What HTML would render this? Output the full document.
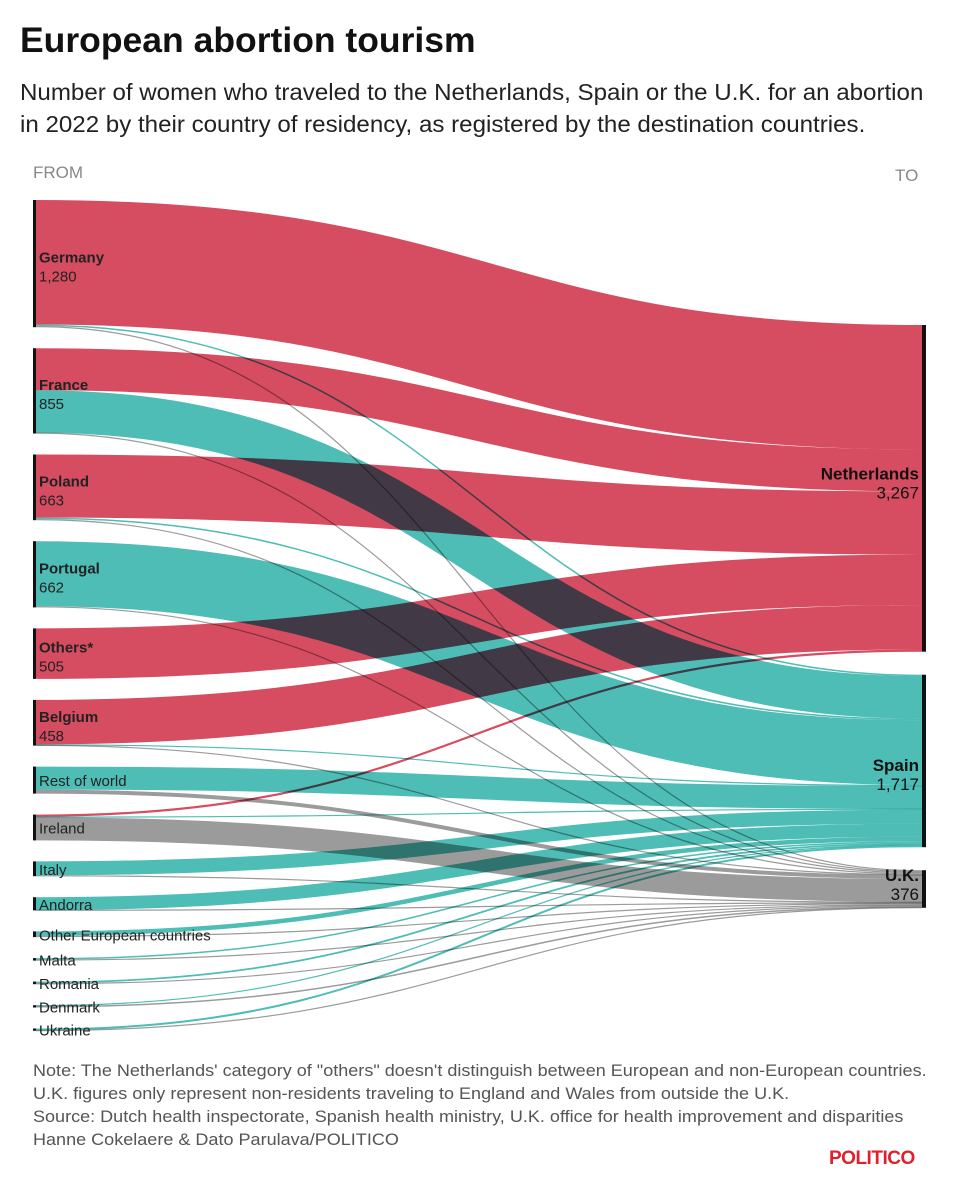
<!DOCTYPE html>
<html><head><meta charset="utf-8"><style>
body{margin:0;background:#fff;width:960px;height:1200px;overflow:hidden;font-family:"Liberation Sans",sans-serif}
.t{position:absolute;white-space:nowrap;transform-origin:0 0}
</style></head><body>
<div class="t" style="left:20px;top:20px;font-size:35.5px;font-weight:bold;color:#111">European abortion tourism</div>
<div class="t" style="left:20px;top:76px;font-size:23.3px;line-height:32px;color:#222;transform:scaleX(1.035)">Number of women who traveled to the Netherlands, Spain or the U.K. for an abortion<br>in 2022 by their country of residency, as registered by the destination countries.</div>
<svg id="chart" width="960" height="1200" style="position:absolute;left:0;top:0"></svg>
<div class="t" style="left:33px;top:1060px;font-size:16.5px;line-height:23px;color:#555;transform:scaleX(1.093)">Note: The Netherlands' category of "others" doesn't distinguish between European and non-European countries.<br>U.K. figures only represent non-residents traveling to England and Wales from outside the U.K.<br>Source: Dutch health inspectorate, Spanish health ministry, U.K. office for health improvement and disparities<br>Hanne Cokelaere &amp; Dato Parulava/POLITICO</div>
<div class="t" style="left:829px;top:1148px;font-size:19px;font-weight:bold;color:#e0202c;letter-spacing:-0.5px">POLITICO</div>
<script>
const sources=["Germany","France","Poland","Portugal","Others*","Belgium","Rest of world","Ireland","Italy","Andorra","Other European countries","Malta","Romania","Denmark","Ukraine"];
const sourceLabels=["1,280","855","663","662","505","458","","","","","","","","",""];
const targets=["Netherlands","Spain","U.K."];
const targetLabels=["3,267","1,717","376"];
const toNetherlands=[1245,420,630,0,505,445,0,22,0,0,0,0,0,0,0];
const toSpain=[15,425,15,650,0,8,230,6,140,130,45,15,18,8,20];
const toUK=[12,8,12,12,0,4,40,230,8,2,12,10,8,15,3];
const colors=["#d64d61","#4dbdb5","#9b9b9b"];
const targetLabelShift=[-7,12,-6];
const k=0.1,x0=36,x1=922,leftTop=200,leftGap=21,rightTop=325,rightGap=23;
const ns="http://www.w3.org/2000/svg",svg=document.getElementById('chart');
function mk(tag,attrs){const e=document.createElementNS(ns,tag);for(const a in attrs)e.setAttribute(a,attrs[a]);svg.appendChild(e);return e;}
const flows=[toNetherlands,toSpain,toUK];
const lTop=[];let y=leftTop;
sources.forEach((s,i)=>{lTop.push(y);const v=flows[0][i]+flows[1][i]+flows[2][i];y+=v*k+leftGap;});
const rTop=[];y=rightTop;
targets.forEach((t,j)=>{rTop.push(y);const v=flows[j].reduce((a,b)=>a+b,0);y+=v*k+rightGap;});
const lOff=lTop.slice(),rOff=rTop.slice();
const links=[];
sources.forEach((s,i)=>{targets.forEach((t,j)=>{const v=flows[j][i];if(!v)return;const w=v*k;links.push({i,j,w,ly:lOff[i]+w/2});lOff[i]+=w;});});
targets.forEach((t,j)=>{links.filter(l=>l.j===j).sort((a,b)=>a.i-b.i).forEach(l=>{l.ry=rOff[j]+l.w/2;rOff[j]+=l.w;});});
const g=mk('g',{});g.setAttribute('style','isolation:isolate');
links.forEach(l=>{const mx=(x0+x1)/2;const p=document.createElementNS(ns,'path');
p.setAttribute('d',`M${x0},${l.ly}C${mx},${l.ly} ${mx},${l.ry} ${x1},${l.ry}`);
p.setAttribute('fill','none');p.setAttribute('stroke',colors[l.j]);p.setAttribute('stroke-width',Math.max(l.w,1.2));
p.setAttribute('style','mix-blend-mode:multiply');


g.appendChild(p);});
sources.forEach((s,i)=>{const h=(flows[0][i]+flows[1][i]+flows[2][i])*k;
const r=mk('rect',{x:33,y:lTop[i],width:3,height:Math.max(h,1.5),fill:'#111'});


const cy=lTop[i]+h/2;
if(sourceLabels[i]){const t=mk('text',{x:39,y:cy-1,'font-size':15,'font-weight':'bold',fill:'#222'});t.textContent=s;


const v=mk('text',{x:39,y:cy+18,'font-size':15,fill:'#222'});v.textContent=sourceLabels[i];

}
else{const t=mk('text',{x:39,y:cy+6,'font-size':15,fill:'#222'});t.textContent=s;

}});
targets.forEach((tn,j)=>{const h=flows[j].reduce((a,b)=>a+b,0)*k;
const r=mk('rect',{x:922,y:rTop[j],width:4,height:h,fill:'#111'});


const cy=rTop[j]+h/2+targetLabelShift[j];
const t=mk('text',{x:919,y:cy-2,'font-size':17,'font-weight':'bold','text-anchor':'end',fill:'#111'});t.textContent=tn;


const v=mk('text',{x:919,y:cy+17,'font-size':17,'text-anchor':'end',fill:'#111'});v.textContent=targetLabels[j];

});
const f=mk('text',{x:33,y:178,'font-size':17,fill:'#888'});f.textContent='FROM';


const to=mk('text',{x:895,y:181,'font-size':17,fill:'#888'});to.textContent='TO';


</script>
</body></html>
